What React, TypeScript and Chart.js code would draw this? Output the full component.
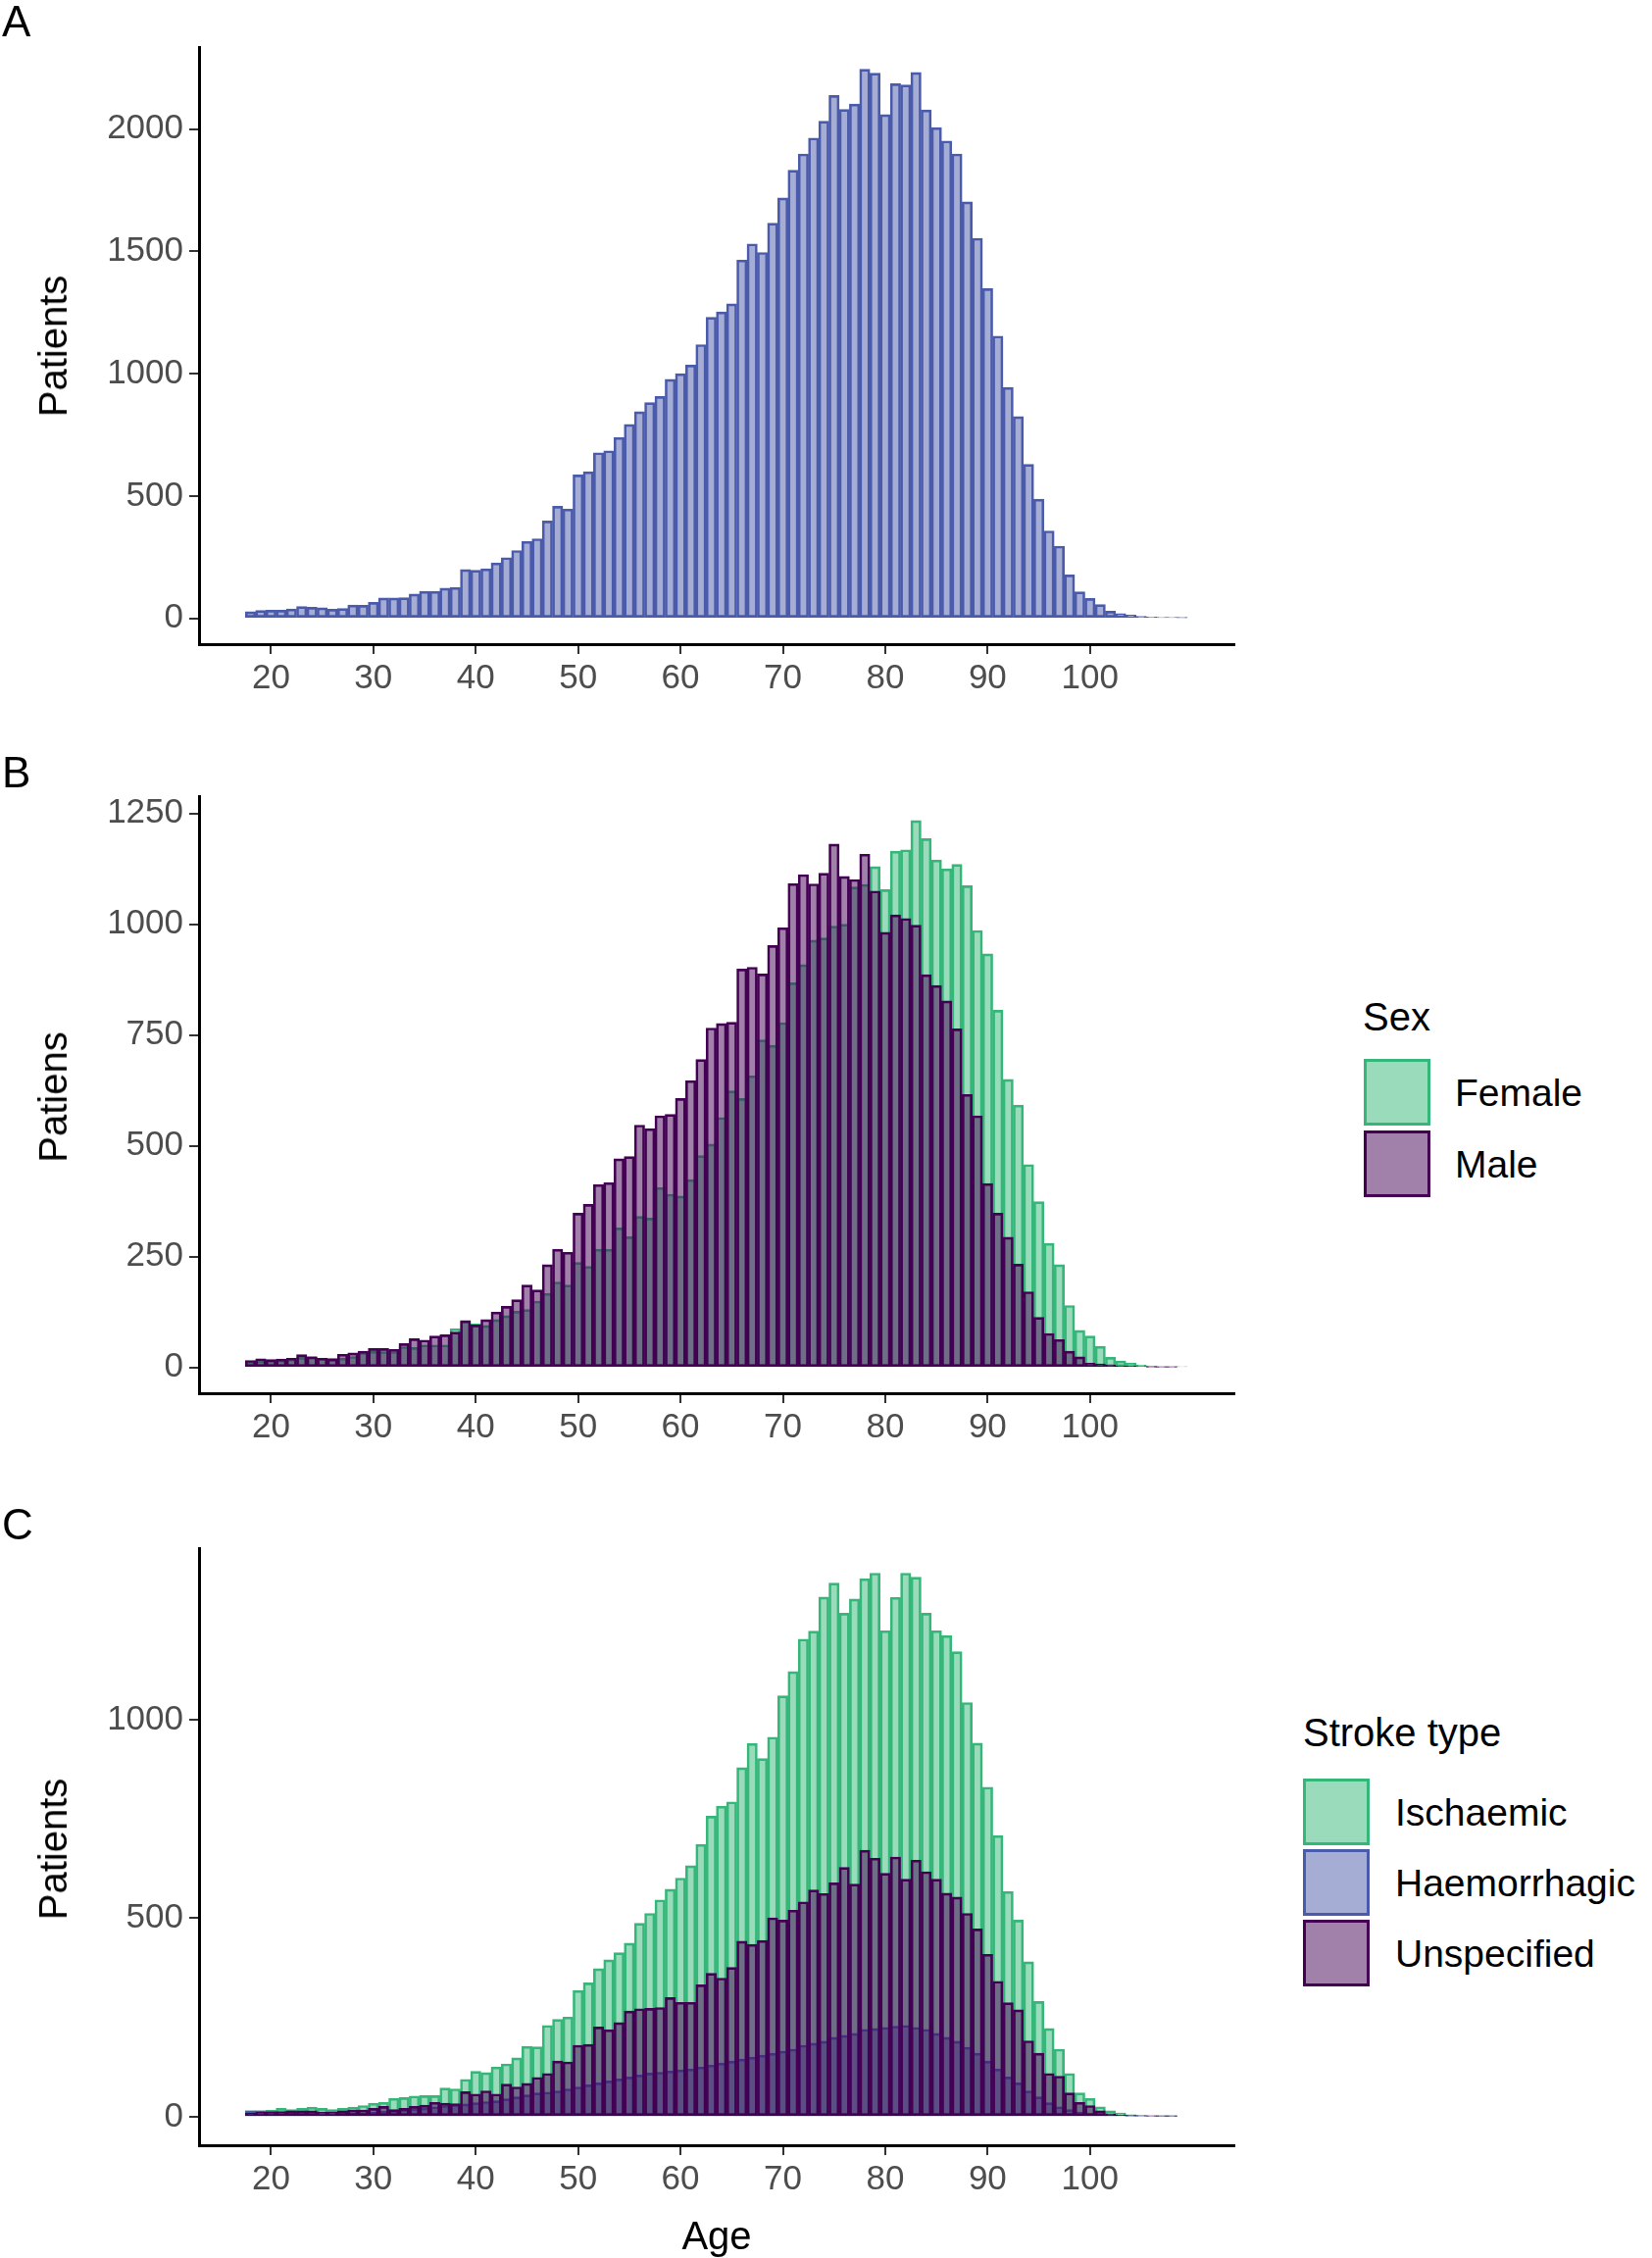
import React, { useEffect, useRef } from "react";
import { Chart, registerables } from "chart.js";
Chart.register(...registerables);

const ages = [18,19,20,21,22,23,24,25,26,27,28,29,30,31,32,33,34,35,36,37,38,39,40,41,42,43,44,45,46,47,48,49,50,51,52,53,54,55,56,57,58,59,60,61,62,63,64,65,66,67,68,69,70,71,72,73,74,75,76,77,78,79,80,81,82,83,84,85,86,87,88,89,90,91,92,93,94,95,96,97,98,99,100,101,102,103,104,105,106,107,108,109];
const xTicks = [20,30,40,50,60,70,80,90,100];

const allPatients = [27,32,33,33,38,48,45,43,37,40,54,53,65,83,83,84,99,110,110,123,126,199,196,202,226,248,277,314,325,398,458,447,586,599,677,685,739,793,845,882,907,977,1000,1035,1119,1231,1253,1286,1465,1531,1496,1616,1719,1832,1899,1964,2033,2138,2081,2103,2245,2229,2060,2186,2181,2232,2079,2007,1952,1899,1703,1554,1348,1154,944,825,629,487,357,295,177,108,81,56,29,19,13,8,5,3,3,2];

const female = [12,15,15,16,19,23,25,21,21,21,25,34,37,36,36,47,45,51,51,51,88,104,99,95,108,117,127,131,150,167,193,186,237,228,267,267,315,295,341,337,406,391,387,424,478,504,564,624,607,658,739,727,778,868,909,964,969,996,1000,1084,1090,1130,1078,1165,1168,1234,1193,1145,1125,1135,1087,986,933,806,650,592,458,374,280,232,140,84,71,48,23,15,10,6,4,2,2,2];
const male = [16,20,18,19,21,29,24,21,19,30,33,37,43,43,41,54,65,62,71,74,80,106,96,108,125,138,153,186,175,232,267,260,348,368,413,417,471,476,547,539,568,571,607,647,695,766,776,779,899,903,888,952,992,1092,1112,1091,1115,1181,1108,1101,1158,1075,982,1021,1013,998,886,862,827,764,616,568,415,348,294,233,171,113,77,63,37,24,10,8,6,4,3,2,1,1,1,0];

const ischaemic = [15,15,16,21,18,21,24,21,18,21,24,28,34,36,46,48,52,53,53,72,70,94,114,111,125,133,148,177,176,230,245,251,318,337,373,395,413,437,487,512,546,573,601,632,686,757,782,793,879,940,902,956,1060,1121,1203,1223,1309,1344,1268,1304,1355,1369,1224,1308,1369,1359,1268,1224,1212,1171,1043,941,830,708,567,495,390,290,222,170,109,60,46,25,15,9,5,3,2,1,1,0];
const haemorrhagic = [15,15,14,12,10,8,8,8,8,10,10,10,12,14,16,18,20,22,25,28,30,32,35,38,40,45,50,55,60,62,65,70,75,80,85,90,95,100,105,110,112,115,118,120,125,130,135,140,145,150,155,160,165,170,180,185,190,200,205,210,220,222,225,228,230,225,220,210,200,190,175,160,140,120,100,85,65,50,35,25,18,12,8,5,3,2,1,1,0,0,0,0];
const unspecified = [9,12,12,13,15,15,15,12,12,15,17,17,21,26,18,21,26,29,36,34,33,63,57,65,57,82,75,84,99,109,140,138,180,182,226,219,237,266,272,273,275,300,288,288,332,361,349,376,442,434,444,501,495,520,541,571,562,589,628,586,671,651,613,654,598,646,617,598,563,553,512,473,409,341,287,269,191,160,109,102,60,36,28,15,7,4,3,2,1,1,1,0];

const yTicksA = [0,500,1000,1500,2000];
const yTicksB = [0,250,500,750,1000,1250];
const yTicksC = [0,500,1000];

const GREEN = { fill: "rgba(53,183,121,0.5)", line: "#35B779" };
const BLUE = { fill: "rgba(75,91,171,0.5)", line: "#4B5BAB" };
const PURPLE = { fill: "rgba(68,1,84,0.5)", line: "#440154" };

const FONT = "'Liberation Sans', Arial, sans-serif";

type DS = { values: number[]; c: { fill: string; line: string }; order: number };

function Panel(props: { top: number; height: number; padTop: number; yMin: number; yMax: number; yTicks: number[]; series: DS[] }) {
  const ref = useRef<HTMLCanvasElement>(null);
  useEffect(() => {
    const chart = new Chart(ref.current!, {
      type: "bar",
      data: {
        datasets: props.series.map((s) => ({
          data: ages.map((a, i) => ({ x: a, y: s.values[i] })),
          backgroundColor: s.c.fill,
          borderColor: s.c.line,
          borderWidth: 2,
          borderSkipped: false,
          barPercentage: 1,
          categoryPercentage: 1,
          grouped: false,
          order: s.order,
        })) as any,
      },
      options: {
        animation: false,
        responsive: false,
        maintainAspectRatio: false,
        layout: { padding: { top: props.padTop, right: 3, left: 0, bottom: 0 } },
        plugins: { legend: { display: false }, tooltip: { enabled: false } },
        scales: {
          x: {
            type: "linear",
            offset: false,
            min: 12.97,
            max: 114.1,
            afterBuildTicks: (ax: any) => { ax.ticks = xTicks.map((v) => ({ value: v })); },
            afterFit: (ax: any) => { ax.height = props.height - props.padTop - (657 - 48); },
            ticks: { color: "#4d4d4d", font: { family: FONT, size: 35 }, padding: 4, autoSkip: false, maxRotation: 0, callback: (v: any) => String(v) },
            grid: { offset: false, drawOnChartArea: false, color: "#333", lineWidth: 2, tickLength: 10 },
            border: { color: "#000", width: 3 },
          },
          y: {
            min: props.yMin,
            max: props.yMax,
            afterBuildTicks: (ax: any) => { ax.ticks = props.yTicks.map((v) => ({ value: v })); },
            afterFit: (ax: any) => { ax.width = 203; },
            ticks: { color: "#4d4d4d", font: { family: FONT, size: 35 }, padding: 6, callback: (v: any) => String(v) },
            grid: { drawOnChartArea: false, color: "#333", lineWidth: 2, tickLength: 10 },
            border: { color: "#000", width: 3 },
          },
        },
      } as any,
    });
    return () => chart.destroy();
  }, []);
  return (
    <canvas ref={ref} width={1262} height={props.height}
      style={{ position: "absolute", left: 0, top: props.top, width: 1262, height: props.height }} />
  );
}

const txt = (s: React.CSSProperties): React.CSSProperties => ({ position: "absolute", fontFamily: FONT, color: "#000", whiteSpace: "nowrap", ...s });

function YTitle(props: { text: string; cy: number }) {
  return <div style={txt({ left: 54, top: props.cy, fontSize: 40, transform: "translate(-50%,-50%) rotate(-90deg)", lineHeight: 1 })}>{props.text}</div>;
}

function Key(props: { x: number; y: number; c: { fill: string; line: string }; label: string; lx: number }) {
  return (
    <>
      <div style={{ position: "absolute", left: props.x, top: props.y, width: 62, height: 62, background: props.c.fill, border: `3px solid ${props.c.line}` }} />
      <div style={txt({ left: props.lx, top: props.y + 34, transform: "translateY(-50%)", fontSize: 39, lineHeight: 1 })}>{props.label}</div>
    </>
  );
}

export default function App() {
  return (
    <div style={{ position: "absolute", left: 0, top: 0, width: 1685, height: 2303, background: "#fff", overflow: "hidden" }}>
      <Panel top={0} height={737} padTop={48} yMin={-106} yMax={2336} yTicks={yTicksA}
        series={[{ values: allPatients, c: BLUE, order: 1 }]} />
      <Panel top={757} height={746} padTop={55} yMin={-58} yMax={1289} yTicks={yTicksB}
        series={[{ values: female, c: GREEN, order: 2 }, { values: male, c: PURPLE, order: 1 }]} />
      <Panel top={1524} height={749} padTop={55} yMin={-72} yMax={1432} yTicks={yTicksC}
        series={[{ values: ischaemic, c: GREEN, order: 3 }, { values: haemorrhagic, c: BLUE, order: 2 }, { values: unspecified, c: PURPLE, order: 1 }]} />

      <div style={txt({ left: 2, top: 0, fontSize: 44, lineHeight: 1 })}>A</div>
      <div style={txt({ left: 2, top: 766, fontSize: 44, lineHeight: 1 })}>B</div>
      <div style={txt({ left: 2, top: 1533, fontSize: 44, lineHeight: 1 })}>C</div>

      <YTitle text="Patients" cy={353} />
      <YTitle text="Patiens" cy={1119} />
      <YTitle text="Patients" cy={1886} />
      <div style={txt({ left: 731, top: 2280, transform: "translate(-50%,-50%)", fontSize: 40, lineHeight: 1 })}>Age</div>

      <div style={txt({ left: 1390, top: 1037, transform: "translateY(-50%)", fontSize: 40, lineHeight: 1 })}>Sex</div>
      <Key x={1391} y={1080} c={GREEN} label="Female" lx={1484} />
      <Key x={1391} y={1153} c={PURPLE} label="Male" lx={1484} />

      <div style={txt({ left: 1329, top: 1767, transform: "translateY(-50%)", fontSize: 40, lineHeight: 1 })}>Stroke type</div>
      <Key x={1329} y={1814} c={GREEN} label="Ischaemic" lx={1423} />
      <Key x={1329} y={1886} c={BLUE} label="Haemorrhagic" lx={1423} />
      <Key x={1329} y={1958} c={PURPLE} label="Unspecified" lx={1423} />
    </div>
  );
}
